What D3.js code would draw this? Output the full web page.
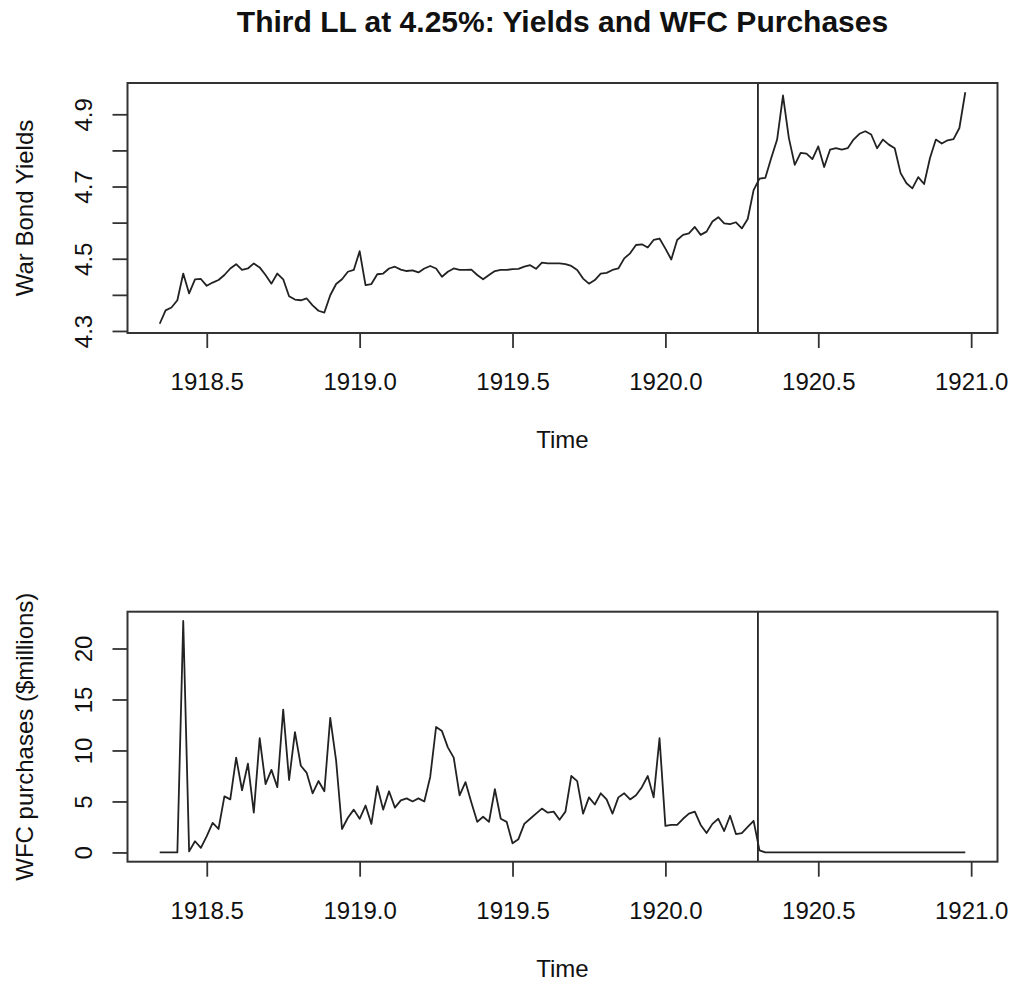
<!DOCTYPE html>
<html>
<head>
<meta charset="utf-8">
<script src="https://cdn.jsdelivr.net/npm/d3@7"></script>
<style>
  body { margin: 0; background: #fff; }
  svg { display: block; }
  text { font-family: "Liberation Sans", Arial, Helvetica, sans-serif; fill: #111; }
</style>
</head>
<body>
<svg id="chart" width="1016" height="986"></svg>
<script>
// ---- Data (weekly time series, start 1918 week 19, frequency 52) ----
const tsStartYear = 1918;
const tsStartPeriod = 19;
const tsFrequency = 52;

const warBondYields = [
  4.320, 4.357, 4.365, 4.385, 4.459, 4.404, 4.443, 4.444, 4.425, 4.434,
  4.441, 4.455, 4.473, 4.485, 4.469, 4.473, 4.487, 4.476, 4.455, 4.431,
  4.459, 4.443, 4.396, 4.387, 4.385, 4.390, 4.371, 4.356, 4.351, 4.399,
  4.430, 4.443, 4.464, 4.469, 4.521, 4.427, 4.430, 4.457, 4.459, 4.473,
  4.478, 4.470, 4.466, 4.468, 4.462, 4.473, 4.480, 4.473, 4.450, 4.464,
  4.473, 4.469, 4.469, 4.470, 4.455, 4.443, 4.455, 4.466, 4.469, 4.469,
  4.471, 4.472, 4.478, 4.482, 4.472, 4.489, 4.487, 4.487, 4.487, 4.485,
  4.480, 4.469, 4.445, 4.431, 4.441, 4.459, 4.461, 4.469, 4.473, 4.501,
  4.515, 4.538, 4.540, 4.531, 4.552, 4.556, 4.528, 4.498, 4.552, 4.566,
  4.570, 4.588, 4.566, 4.575, 4.603, 4.615, 4.598, 4.596, 4.601, 4.584,
  4.610, 4.690, 4.722, 4.724, 4.779, 4.830, 4.952, 4.834, 4.760, 4.793,
  4.791, 4.776, 4.811, 4.754, 4.802, 4.806, 4.802, 4.806, 4.830, 4.846,
  4.853, 4.844, 4.806, 4.830, 4.816, 4.806, 4.737, 4.709, 4.695, 4.726,
  4.707, 4.779, 4.830, 4.819, 4.828, 4.831, 4.862, 4.961
];

const wfcPurchases = [
  0, 0, 0, 0, 22.7, 0.1, 1.1, 0.45, 1.6, 2.9,
  2.3, 5.5, 5.2, 9.3, 6.1, 8.7, 3.9, 11.2, 6.7, 8.1,
  6.4, 14.0, 7.1, 11.8, 8.5, 7.8, 5.8, 7.0, 6.0, 13.2,
  9.0, 2.3, 3.4, 4.2, 3.3, 4.6, 2.8, 6.5, 4.2, 6.0,
  4.4, 5.1, 5.3, 5.0, 5.3, 5.0, 7.4, 12.3, 11.9, 10.3,
  9.3, 5.6, 6.9, 4.9, 3.0, 3.5, 3.0, 6.2, 3.3, 3.0,
  0.9, 1.3, 2.8, 3.3, 3.8, 4.3, 3.9, 4.0, 3.2, 4.0,
  7.5, 7.0, 3.8, 5.4, 4.7, 5.8, 5.2, 3.8, 5.4, 5.8,
  5.2, 5.6, 6.4, 7.5, 5.4, 11.2, 2.6, 2.7, 2.7, 3.3,
  3.8, 4.0, 2.7, 1.9, 2.8, 3.3, 2.1, 3.6, 1.8, 1.9,
  2.5, 3.1, 0.2, 0, 0, 0, 0, 0, 0, 0,
  0, 0, 0, 0, 0, 0, 0, 0, 0, 0,
  0, 0, 0, 0, 0, 0, 0, 0, 0, 0,
  0, 0, 0, 0, 0, 0, 0, 0
];

const policyChangeTime = 1920.3;

const xTickValues = [1918.5, 1919.0, 1919.5, 1920.0, 1920.5, 1921.0];
const xTickLabels = ["1918.5", "1919.0", "1919.5", "1920.0", "1920.5", "1921.0"];
const yieldTickValues = [4.3, 4.4, 4.5, 4.6, 4.7, 4.8, 4.9];
const yieldTickLabels = ["4.3", "", "4.5", "", "4.7", "", "4.9"];
const wfcTickValues = [0, 5, 10, 15, 20];
const wfcTickLabels = ["0", "5", "10", "15", "20"];

const titleText = "Third LL at 4.25%: Yields and WFC Purchases";
const xAxisTitle = "Time";
const yieldAxisTitle = "War Bond Yields";
const wfcAxisTitle = "WFC purchases ($millions)";

// ---- Build series ----
const timeOf = i => tsStartYear + (tsStartPeriod - 1 + i) / tsFrequency;
const yieldSeries = warBondYields.map((v, i) => ({ t: timeOf(i), v }));
const wfcSeries = wfcPurchases.map((v, i) => ({ t: timeOf(i), v }));

// ---- Layout ----
const svg = d3.select("#chart");
const plotLeft = 127.5, plotRight = 997.5, plotH = 250;
const panels = [
  { top: 83, series: yieldSeries, ticks: yieldTickValues, labels: yieldTickLabels, ytitle: yieldAxisTitle },
  { top: 611.7, series: wfcSeries, ticks: wfcTickValues, labels: wfcTickLabels, ytitle: wfcAxisTitle }
];

// R-style 4% padding
function padExtent(ext) {
  const d = (ext[1] - ext[0]) * 0.04;
  return [ext[0] - d, ext[1] + d];
}

const x = d3.scaleLinear()
  .domain(padExtent(d3.extent(yieldSeries, d => d.t)))
  .range([plotLeft, plotRight]);

const ink = "#1a1a1a";

svg.append("text")
  .attr("x", (plotLeft + plotRight) / 2)
  .attr("y", 32)
  .attr("text-anchor", "middle")
  .style("font-weight", "bold")
  .style("font-size", "30px")
  .text(titleText);

panels.forEach(p => {
  const bottom = p.top + plotH;
  const y = d3.scaleLinear()
    .domain(padExtent(d3.extent(p.series, d => d.v)))
    .range([bottom, p.top]);

  const g = svg.append("g");

  // data line
  g.append("path")
    .datum(p.series)
    .attr("fill", "none")
    .attr("stroke", "#222")
    .attr("stroke-width", 1.8)
    .attr("stroke-linejoin", "round")
    .attr("d", d3.line().x(d => x(d.t)).y(d => y(d.v)));

  // vertical policy line
  g.append("line")
    .attr("x1", x(policyChangeTime) + 0.8).attr("x2", x(policyChangeTime) + 0.8)
    .attr("y1", p.top).attr("y2", bottom)
    .attr("stroke", "#222").attr("stroke-width", 1.8);

  // box
  g.append("rect")
    .attr("x", plotLeft).attr("y", p.top)
    .attr("width", plotRight - plotLeft).attr("height", plotH)
    .attr("fill", "none").attr("stroke", "#333").attr("stroke-width", 2);

  // x axis
  const xa = g.append("g")
    .attr("transform", `translate(0,${bottom})`)
    .call(d3.axisBottom(x).tickValues(xTickValues)
      .tickFormat((d, i) => xTickLabels[i]).tickSize(15).tickSizeOuter(0));
  xa.select(".domain").remove();
  xa.selectAll("line").attr("stroke", "#333").attr("stroke-width", 1.8);
  xa.selectAll("text").attr("y", 57).attr("dy", null)
    .style("font-size", "24px").style("font-family", "Liberation Sans, Arial, sans-serif").attr("fill", ink);

  // y axis
  const ya = g.append("g")
    .attr("transform", `translate(${plotLeft},0)`)
    .call(d3.axisLeft(y).tickValues(p.ticks)
      .tickFormat((d, i) => p.labels[i]).tickSize(15).tickSizeOuter(0));
  ya.select(".domain").remove();
  ya.selectAll("line").attr("stroke", "#333").attr("stroke-width", 1.8);
  ya.selectAll("text")
    .attr("x", null).attr("dy", null)
    .attr("text-anchor", "middle")
    .attr("transform", "translate(-36,0) rotate(-90)")
    .style("font-size", "24px").style("font-family", "Liberation Sans, Arial, sans-serif").attr("fill", ink);

  // x title
  g.append("text")
    .attr("x", (plotLeft + plotRight) / 2)
    .attr("y", bottom + 115)
    .attr("text-anchor", "middle")
    .style("font-size", "24px")
    .text(xAxisTitle);

  // y title
  g.append("text")
    .attr("transform", `translate(33,${p.top + plotH / 2}) rotate(-90)`)
    .attr("text-anchor", "middle")
    .style("font-size", "24px")
    .text(p.ytitle);
});
</script>
</body>
</html>
